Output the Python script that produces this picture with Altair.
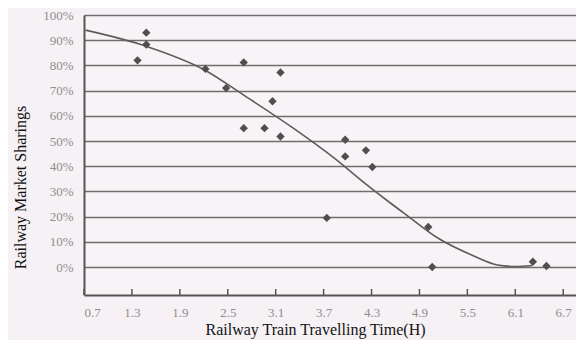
import altair as alt
import pandas as pd

# Observed points (travel time in hours, railway market share in %)
pt_x = [1.37, 1.48, 1.48, 2.22, 2.48, 2.70, 2.70, 2.96, 3.06, 3.16, 3.16,
        3.74, 3.97, 3.97, 4.23, 4.31, 5.01, 5.06, 6.32, 6.49]
pt_y = [82, 93, 88.3, 78.6, 71, 81.2, 55.1, 55.1, 65.8, 77.2, 51.8,
        19.5, 50.5, 43.9, 46.3, 39.7, 15.9, 0, 2.1, 0.4]

# Fitted trend curve
fit_x = [0.72, 1.48, 2.21, 2.70, 3.32, 3.83, 4.23, 4.54, 4.71,
         5.14, 5.58, 5.88, 6.10, 6.31]
fit_y = [94.0, 87.6, 78.2, 68.2, 55.1, 43.3, 32.9, 25.3, 21.3,
         11.3, 4.4, 0.8, 0.2, 0.6]

x_ticks = [0.7, 1.3, 1.9, 2.5, 3.1, 3.7, 4.3, 4.9, 5.5, 6.1, 6.7]
y_ticks = [0, 10, 20, 30, 40, 50, 60, 70, 80, 90, 100]

pts = pd.DataFrame({"t": pt_x, "s": pt_y})
fit = pd.DataFrame({"t": fit_x, "s": fit_y})
ticks = pd.DataFrame({"t": x_ticks})

FONT = "Liberation Serif"
GRID = "#6e6e6e"
LABEL = "#8e8e8e"

xs = alt.Scale(domain=[0.7, 6.86], nice=False, zero=False)
ys = alt.Scale(domain=[-11.1, 100], nice=False, zero=False)

x_axis = alt.Axis(values=x_ticks, title="Railway Train Travelling Time(H)",
                  labelExpr="format(datum.value, '.1f')", grid=False,
                  ticks=False, labelPadding=11, labelFontSize=13,
                  labelOverlap=False, labelColor=LABEL, labelFont=FONT,
                  titleFont=FONT, titleFontSize=16, titleFontWeight="normal",
                  titleColor="#111", titlePadding=2, titleX=231,
                  domainColor="#555", domainWidth=2)
y_axis = alt.Axis(values=y_ticks, title="Railway Market Sharings",
                  labelExpr="datum.value + '%'", grid=True, gridColor=GRID,
                  gridWidth=1.4, gridOpacity=1, ticks=False, labelPadding=11,
                  labelOverlap=False, labelFontSize=13, labelColor=LABEL,
                  labelFont=FONT, titleFont=FONT, titleFontSize=16,
                  titleFontWeight="normal", titleColor="#111",
                  titlePadding=14, titleY=172, domainColor="#555",
                  domainWidth=2)

X = alt.X("t:Q", scale=xs, axis=x_axis)
Y = alt.Y("s:Q", scale=ys, axis=y_axis)

points = alt.Chart(pts).mark_point(shape="diamond", filled=True, size=70,
                                   color="#4f4f4f", opacity=1).encode(x=X, y=Y)

curve = alt.Chart(fit).mark_line(color="#5c5c5c", strokeWidth=1.6,
                                 interpolate="monotone").encode(x=X, y=Y)

tickmarks = alt.Chart(ticks).mark_rule(color="#555", strokeWidth=1.5).encode(
    x=X,
    y=alt.value(280),
    y2=alt.value(274),
)

chart = alt.layer(tickmarks, curve, points).properties(
    width=492, height=280,
    background="#f6f1f4",
    padding={"left": 76, "top": 7, "right": 0, "bottom": 45},
    autosize=alt.AutoSizeParams(type="none"),
).configure_view(stroke=None, fill="#f8f3f6")

chart.save("out.html", embed_options={"renderer": "svg", "actions": False})
